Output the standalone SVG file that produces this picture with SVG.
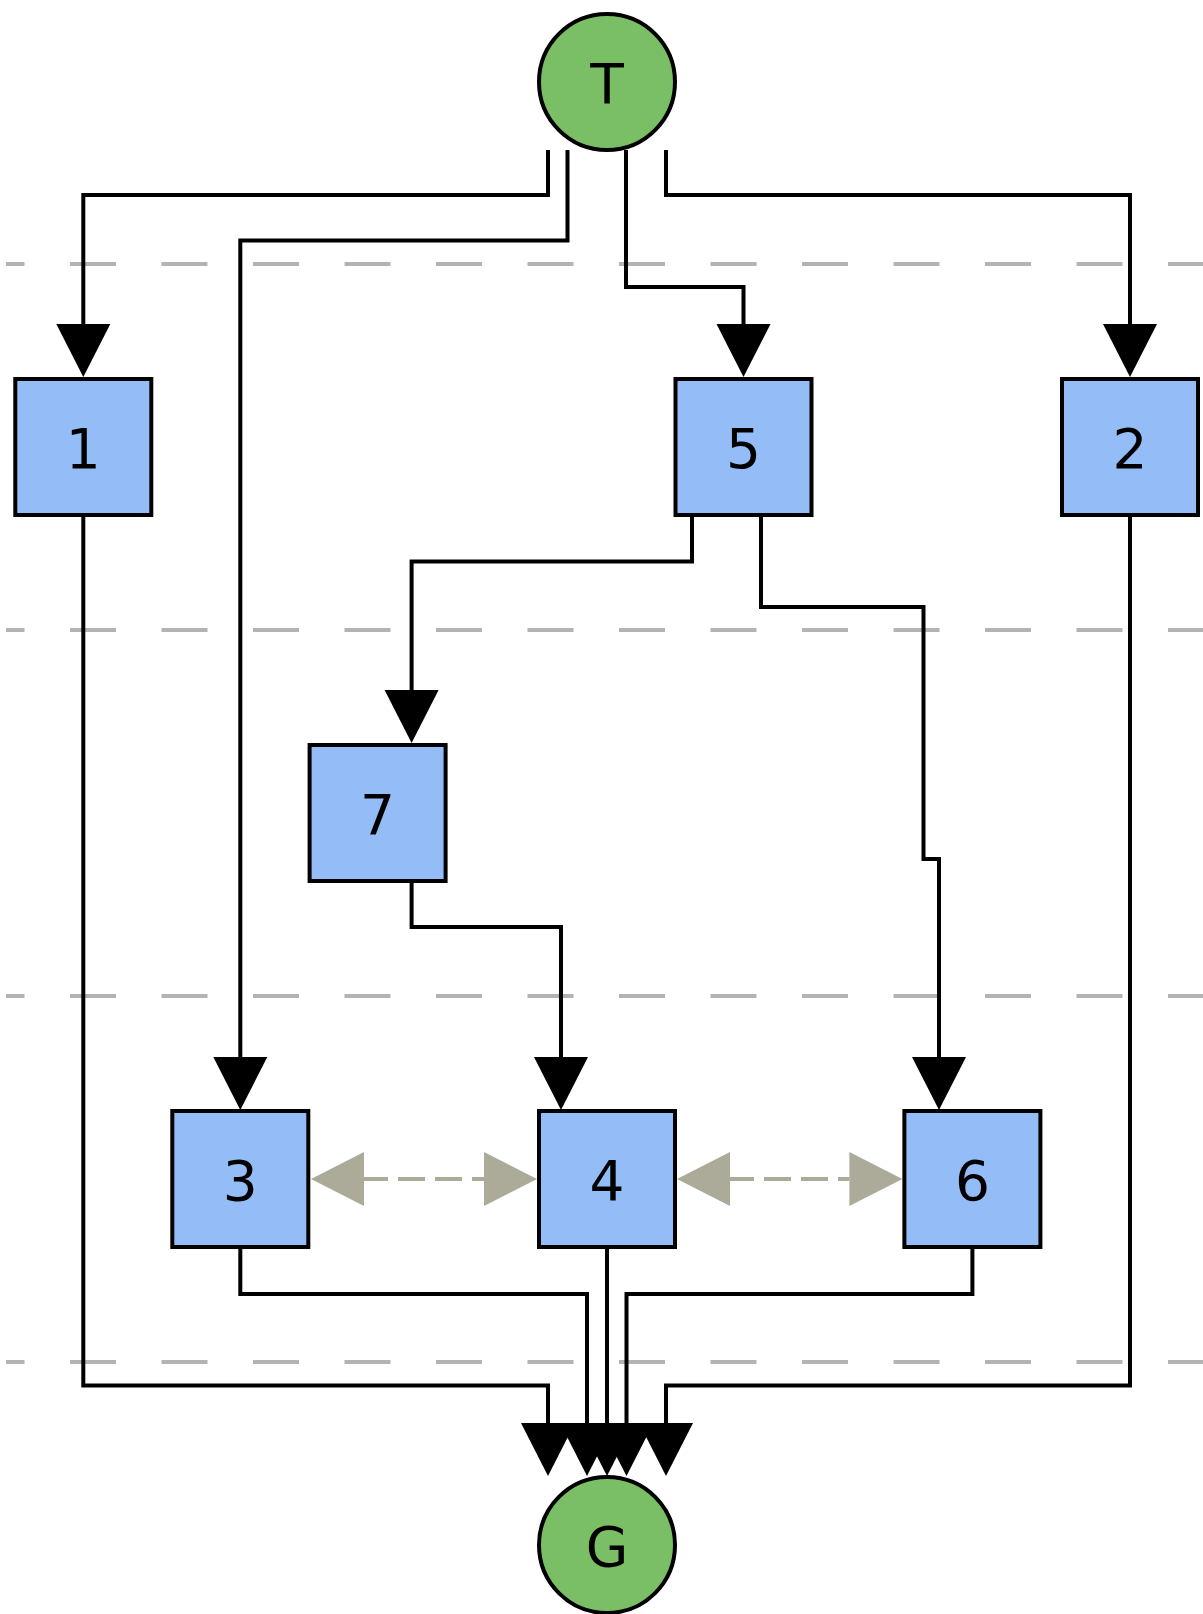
<svg xmlns="http://www.w3.org/2000/svg" width="1203" height="1614" viewBox="0 0 1203 1614">
<style>
.layer{stroke:#b3b3b3;stroke-width:4;stroke-dasharray:46 45.5;stroke-dashoffset:27.5;fill:none}
.edge{stroke:#000;stroke-width:4;fill:none;marker-end:url(#ah)}
.bi{stroke:#acab99;stroke-width:4;fill:none;stroke-dasharray:27 10;stroke-dashoffset:3;marker-start:url(#gh);marker-end:url(#gh)}
.box{fill:#94bcf7;stroke:#000;stroke-width:4}
.term{fill:#7abf65;stroke:#000;stroke-width:4}
.lbl{font-family:"DejaVu Sans",sans-serif;font-size:55px;fill:#000;text-anchor:middle}
</style>
<defs>
<marker id="ah" markerUnits="userSpaceOnUse" markerWidth="54" markerHeight="56" viewBox="0 -28 54 56" refX="0" refY="0" orient="auto"><path d="M0,-27 L53,0 L0,27 Z" fill="#000"/></marker>
<marker id="gh" markerUnits="userSpaceOnUse" markerWidth="54" markerHeight="56" viewBox="0 -28 54 56" refX="0" refY="0" orient="auto-start-reverse"><path d="M0,-27 L53,0 L0,27 Z" fill="#acab99"/></marker>
</defs>
<g id="layers">
<line class="layer" x1="6" y1="264" x2="1203" y2="264"/>
<line class="layer" x1="6" y1="630" x2="1203" y2="630"/>
<line class="layer" x1="6" y1="996" x2="1203" y2="996"/>
<line class="layer" x1="6" y1="1362" x2="1203" y2="1362"/>
</g>
<g id="connectors">
<path class="edge" d="M548,150 V195 H83.3 V324"/>
<path class="edge" d="M567.5,150 V240.5 H240.3 V1057"/>
<path class="edge" d="M626,150 V287 H743.5 V324"/>
<path class="edge" d="M666,150 V195 H1130 V324"/>
<path class="edge" d="M692,517 V561.5 H411.6 V690"/>
<path class="edge" d="M761,517 V607 H923.5 V859 H939 V1057"/>
<path class="edge" d="M411.6,883 V927 H561 V1057"/>
<path class="edge" d="M240.3,1249 V1294 H587 V1423"/>
<path class="edge" d="M607,1249 V1423"/>
<path class="edge" d="M972.4,1249 V1294 H626.5 V1423"/>
<path class="edge" d="M83.3,517 V1385.5 H548 V1423"/>
<path class="edge" d="M1130,517 V1385.5 H666 V1423"/>
<path class="bi" d="M364,1179 H484"/>
<path class="bi" d="M730,1179 H849.4"/>
</g>
<g id="node-T"><circle class="term" cx="607" cy="82" r="68"/><text class="lbl" x="607" y="103">T</text></g>
<g id="node-1"><rect class="box" x="15.3" y="379" width="136" height="136"/><text class="lbl" x="83.3" y="468">1</text></g>
<g id="node-5"><rect class="box" x="675.5" y="379" width="136" height="136"/><text class="lbl" x="743.5" y="468">5</text></g>
<g id="node-2"><rect class="box" x="1062" y="379" width="136" height="136"/><text class="lbl" x="1130" y="468">2</text></g>
<g id="node-7"><rect class="box" x="309.6" y="745" width="136" height="136"/><text class="lbl" x="377.6" y="834">7</text></g>
<g id="node-3"><rect class="box" x="172.3" y="1111" width="136" height="136"/><text class="lbl" x="240.3" y="1200">3</text></g>
<g id="node-4"><rect class="box" x="539" y="1111" width="136" height="136"/><text class="lbl" x="607" y="1200">4</text></g>
<g id="node-6"><rect class="box" x="904.4" y="1111" width="136" height="136"/><text class="lbl" x="972.4" y="1200">6</text></g>
<g id="node-G"><circle class="term" cx="607" cy="1545" r="68"/><text class="lbl" x="607" y="1566">G</text></g>
</svg>
